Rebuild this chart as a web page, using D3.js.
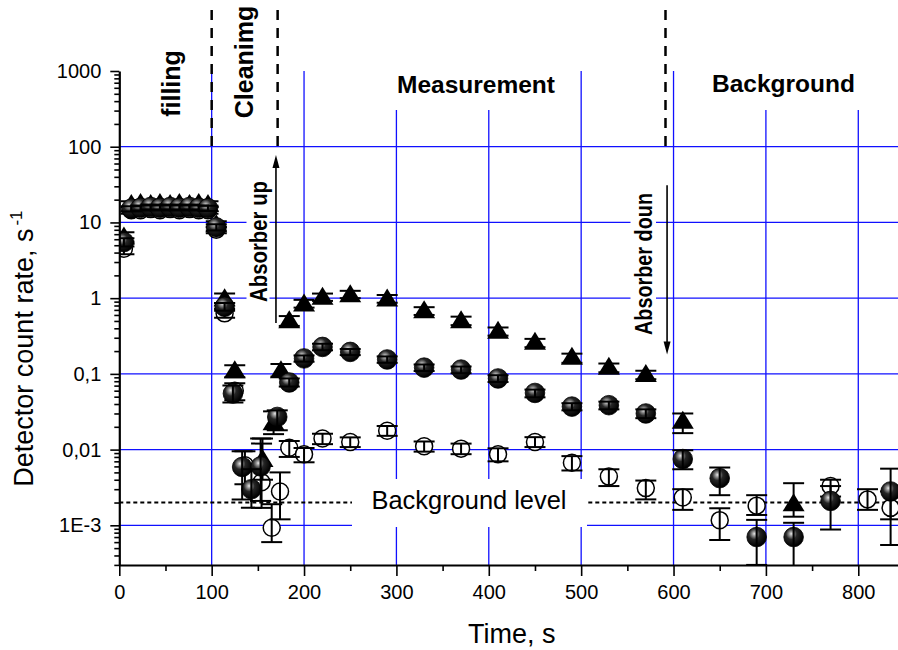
<!DOCTYPE html>
<html>
<head>
<meta charset="utf-8">
<script src="https://cdn.jsdelivr.net/npm/d3@7"></script>
<style>
  body { margin: 0; background: #fff; }
  svg { display: block; font-family: "Liberation Sans", Arial, sans-serif; }
</style>
</head>
<body>
<svg id="chart" width="898" height="650"></svg>
<script>
// ---------- data: detector count rate (1/s) vs time (s) ----------
// Series 1: filled triangles
const triTime = [5, 13, 23, 34, 44, 55, 65, 76, 86, 96, 105, 114, 125, 155, 167, 175, 184, 200, 220, 250, 290, 330, 370, 410, 450, 490, 530, 570, 610, 730];
const triRate = [6.5, 17.5, 18, 17.5, 18, 17.5, 18, 17.5, 18, 17.5, 9.5, 1.0, 0.112, 0.0075, 0.023, 0.112, 0.51, 0.85, 1.04, 1.13, 0.99, 0.69, 0.51, 0.37, 0.265, 0.168, 0.124, 0.10, 0.024, 0.00195];
const triLow  = [5.6, 16, 16.4, 16, 16.4, 16, 16.4, 16, 16.4, 16, 8.6, 0.86, 0.09, 0.004, 0.016, 0.092, 0.43, 0.75, 0.92, 1.0, 0.87, 0.60, 0.44, 0.32, 0.225, 0.14, 0.105, 0.085, 0.0165, 0.0013];
const triHigh = [7.4, 19, 19.6, 19, 19.6, 19, 19.6, 19, 19.6, 19, 10.4, 1.15, 0.13, 0.014, 0.032, 0.135, 0.58, 0.95, 1.15, 1.25, 1.1, 0.76, 0.57, 0.41, 0.29, 0.185, 0.137, 0.11, 0.030, 0.0036];

// Series 2: shaded spheres
const sphTime = [5, 13, 23, 34, 44, 55, 65, 76, 86, 96, 105, 114, 123, 133, 143, 153, 171, 184, 200, 220, 250, 290, 330, 370, 410, 450, 490, 530, 570, 610, 650, 690, 730, 770, 835];
const sphRate = [5.5, 15.2, 15.6, 16, 15.6, 16, 15.6, 16, 15.6, 15.4, 8.6, 0.77, 0.055, 0.0059, 0.0030, 0.0060, 0.027, 0.077, 0.16, 0.227, 0.195, 0.155, 0.121, 0.114, 0.087, 0.056, 0.037, 0.0386, 0.030, 0.0075, 0.0042, 0.0007, 0.0007, 0.0021, 0.0028];
const sphLow  = [4.8, 14, 14.4, 14.8, 14.4, 14.8, 14.4, 14.8, 14.4, 14.2, 7.8, 0.68, 0.042, 0.0022, 0.0017, 0.0021, 0.018, 0.068, 0.145, 0.205, 0.177, 0.14, 0.109, 0.102, 0.078, 0.049, 0.033, 0.034, 0.026, 0.0055, 0.0025, 0.0003, 0.0002, 0.00088, 0.0012];
const sphHigh = [6.2, 16.4, 16.8, 17.2, 16.8, 17.2, 16.8, 17.2, 16.8, 16.6, 9.5, 0.86, 0.07, 0.0095, 0.0055, 0.014, 0.033, 0.087, 0.175, 0.25, 0.213, 0.17, 0.133, 0.125, 0.096, 0.062, 0.041, 0.043, 0.034, 0.0098, 0.0058, 0.00118, 0.00108, 0.0033, 0.0056];

// Series 3: open circles
const opnTime = [5, 13, 23, 34, 44, 55, 65, 76, 86, 96, 105, 114, 125, 136, 154, 165, 174, 184, 200, 220, 250, 290, 330, 370, 410, 450, 490, 530, 570, 610, 650, 690, 770, 810, 835];
const opnRate = [4.5, 14.5, 14.5, 15, 14.5, 15, 14.5, 15, 14.5, 14.5, 8.0, 0.63, 0.06, 0.0062, 0.0037, 0.00093, 0.0028, 0.0106, 0.0087, 0.0140, 0.0126, 0.0177, 0.0111, 0.0103, 0.0087, 0.0126, 0.0067, 0.0044, 0.0031, 0.00233, 0.00117, 0.00182, 0.0033, 0.0022, 0.0017];
const opnLow  = [3.8, 13, 13, 13.5, 13, 13.5, 13, 13.5, 13, 13, 7.2, 0.55, 0.045, 0.0035, 0.0017, 0.0006, 0.0012, 0.008, 0.0068, 0.0118, 0.0108, 0.0152, 0.0094, 0.0087, 0.0070, 0.0108, 0.0053, 0.0033, 0.0022, 0.0016, 0.00064, 0.00137, 0.0024, 0.0016, 0.00055];
const opnHigh = [5.3, 16, 16, 16.5, 16, 16.5, 16, 16.5, 16, 16, 8.8, 0.72, 0.075, 0.0095, 0.012, 0.0019, 0.0050, 0.013, 0.0105, 0.0162, 0.0145, 0.0205, 0.0128, 0.0120, 0.0104, 0.0146, 0.0082, 0.0055, 0.0039, 0.0030, 0.00168, 0.0025, 0.0040, 0.0030, 0.0028];

// Axis ticks
const xTickValues = [0, 100, 200, 300, 400, 500, 600, 700, 800];
const yTickValues = [1e-3, 0.01, 0.1, 1, 10, 100, 1000];
const yTickLabels = ["1E-3", "0,01", "0,1", "1", "10", "100", "1000"];

// Experiment phases and markers (time in s)
const phaseBounds = [100, 171.4, 591.3];
const backgroundLevel = 0.002;

// ---------- layout ----------
const W = 898, H = 650;
const svg = d3.select("#chart");
const x = d3.scaleLinear().domain([0, 843]).range([119.3, 898]);
const y = d3.scaleLog().domain([Math.pow(10, -3.524), 1000]).range([565, 71]);
const x0 = x(0), yBot = y.range()[0], yTop = y.range()[1];

const defs = svg.append("defs");
const grad = defs.append("radialGradient").attr("id", "sphere")
  .attr("cx", 0.4).attr("cy", 0.36).attr("r", 0.62).attr("fx", 0.38).attr("fy", 0.33);
grad.append("stop").attr("offset", 0).attr("stop-color", "#e6e6e6");
grad.append("stop").attr("offset", 0.16).attr("stop-color", "#9c9c9c");
grad.append("stop").attr("offset", 0.45).attr("stop-color", "#262626");
grad.append("stop").attr("offset", 1).attr("stop-color", "#000");
defs.append("clipPath").attr("id", "plotClip").append("rect")
  .attr("x", x0).attr("y", 40).attr("width", W - x0).attr("height", yBot - 40);

// ---------- grid ----------
const grid = svg.append("g").attr("stroke", "#1010ff").attr("stroke-width", 1.3);
[0.001, 0.01, 0.1, 1, 10, 100].forEach(v =>
  grid.append("line").attr("x1", x0).attr("x2", W).attr("y1", y(v)).attr("y2", y(v)));
xTickValues.slice(1).forEach(t =>
  grid.append("line").attr("x1", x(t)).attr("x2", x(t)).attr("y1", yTop).attr("y2", yBot));

// background level
svg.append("line").attr("x1", x0).attr("x2", W)
  .attr("y1", y(backgroundLevel)).attr("y2", y(backgroundLevel))
  .attr("stroke", "#000").attr("stroke-width", 2).attr("stroke-dasharray", "4,3");

// white label backgrounds
const boxes = [
  [388, 66, 180, 44],     // Measurement
  [703, 66, 163, 44],     // Background
  [246.5, 176, 23, 132],  // Absorber up
  [630.5, 187, 25.5, 154],// Absorber doun
  [352, 479, 235, 48]     // Background level
];
svg.append("g").selectAll("rect").data(boxes).join("rect")
  .attr("x", d => d[0]).attr("y", d => d[1]).attr("width", d => d[2]).attr("height", d => d[3])
  .attr("fill", "#fff");

// ---------- data ----------
const plot = svg.append("g").attr("clip-path", "url(#plotClip)");
function rows(t, v, lo, hi) { return t.map((d, i) => ({ t: d, v: v[i], lo: lo[i], hi: hi[i] })); }
const tri = rows(triTime, triRate, triLow, triHigh);
const sph = rows(sphTime, sphRate, sphLow, sphHigh);
const opn = rows(opnTime, opnRate, opnLow, opnHigh);

function errorBars(g, data) {
  const e = g.append("g").attr("stroke", "#000").attr("stroke-width", 2).attr("fill", "none");
  data.forEach(d => {
    const cx = x(d.t), y1 = y(d.lo), y2 = y(d.hi);
    e.append("line").attr("x1", cx).attr("x2", cx).attr("y1", y1).attr("y2", y2);
    e.append("line").attr("x1", cx - 10.5).attr("x2", cx + 10.5).attr("y1", y1).attr("y2", y1);
    e.append("line").attr("x1", cx - 10.5).attr("x2", cx + 10.5).attr("y1", y2).attr("y2", y2);
  });
}

// open circles
plot.append("g").selectAll("circle").data(opn).join("circle")
  .attr("cx", d => x(d.t)).attr("cy", d => y(d.v)).attr("r", 8.5)
  .attr("fill", "#fff").attr("stroke", "#000").attr("stroke-width", 1.5);
errorBars(plot, opn);

// triangles
plot.append("g").selectAll("path").data(tri).join("path")
  .attr("d", "M0,-10L11,8L-11,8Z")
  .attr("transform", d => `translate(${x(d.t)},${y(d.v)})`)
  .attr("fill", "#000");
errorBars(plot, tri);

// spheres
plot.append("g").selectAll("circle").data(sph).join("circle")
  .attr("cx", d => x(d.t)).attr("cy", d => y(d.v)).attr("r", 9.8)
  .attr("fill", "url(#sphere)").attr("stroke", "#000").attr("stroke-width", 0.8);
errorBars(plot, sph);

// ---------- axes ----------
const xAxis = svg.append("g").attr("transform", `translate(0,${yBot})`)
  .call(d3.axisBottom(x).tickValues(xTickValues).tickSize(11).tickSizeOuter(0).tickPadding(9));
svg.append("g").attr("transform", `translate(0,${yBot})`)
  .call(d3.axisBottom(x).tickValues(d3.range(50, 850, 100)).tickSize(6).tickSizeOuter(0).tickFormat(""))
  .call(g => g.select(".domain").remove());
xAxis.selectAll("text").attr("font-size", 20).attr("font-family", "Liberation Sans, Arial, sans-serif").attr("fill", "#000");

const minor = [];
for (let e = -4; e < 3; e++) for (let k = 2; k <= 9; k++) {
  const v = k * Math.pow(10, e);
  if (v >= y.domain()[0] && v <= 1000) minor.push(v);
}
const yAxis = svg.append("g").attr("transform", `translate(${x0},0)`)
  .call(d3.axisLeft(y).tickValues(yTickValues).tickSize(9).tickSizeOuter(0).tickPadding(9)
    .tickFormat((d, i) => yTickLabels[i]));
svg.append("g").attr("transform", `translate(${x0},0)`)
  .call(d3.axisLeft(y).tickValues(minor).tickSize(5).tickSizeOuter(0).tickFormat(""))
  .call(g => g.select(".domain").remove());
yAxis.selectAll("text").attr("font-size", 20).attr("font-family", "Liberation Sans, Arial, sans-serif").attr("fill", "#000");
svg.selectAll(".domain").attr("stroke-width", 2.2);
svg.selectAll(".tick line").attr("stroke-width", 1.6);

// ---------- phase annotations ----------
phaseBounds.forEach(t =>
  svg.append("line").attr("x1", x(t)).attr("x2", x(t)).attr("y1", 10).attr("y2", y(100))
    .attr("stroke", "#000").attr("stroke-width", 2.5).attr("stroke-dasharray", "10,8"));

function arrow(t, vFrom, vTo) {
  const ax = x(t), a = y(vFrom), b = y(vTo), dir = b < a ? 1 : -1;
  svg.append("line").attr("x1", ax).attr("x2", ax).attr("y1", a).attr("y2", b + dir * 10)
    .attr("stroke", "#000").attr("stroke-width", 1.6);
  svg.append("path").attr("d", `M${ax},${b}L${ax - 3.5},${b + dir * 13}L${ax + 3.5},${b + dir * 13}Z`).attr("fill", "#000");
}
arrow(169.6, 0.47, 78);
arrow(593, 31, 0.18);

function vText(txt, bx, cy, size, weight, len) {
  const t = svg.append("text").attr("transform", `translate(${bx},${cy}) rotate(-90)`)
    .attr("text-anchor", "middle").attr("font-size", size).attr("font-weight", weight).text(txt);
  if (len) t.attr("textLength", len).attr("lengthAdjust", "spacingAndGlyphs");
}
vText("filling", 179.5, 83.5, 25, "bold");
vText("Cleanimg", 253, 62, 25, "bold");
vText("Absorber up", 266.5, 241.5, 23, "bold", 121);
vText("Absorber doun", 651.5, 264, 23, "bold", 142);

svg.append("text").attr("x", 397).attr("y", 93).attr("font-size", 24.5).attr("font-weight", "bold").text("Measurement");
svg.append("text").attr("x", 712).attr("y", 92).attr("font-size", 24.5).attr("font-weight", "bold").text("Background");
svg.append("text").attr("x", 371.5).attr("y", 508.5).attr("font-size", 25)
  .attr("textLength", 195).attr("lengthAdjust", "spacingAndGlyphs").text("Background level");

// axis titles
svg.append("text").attr("x", 511.7).attr("y", 643).attr("text-anchor", "middle").attr("font-size", 27).text("Time, s");
const yt = svg.append("text").attr("transform", "translate(33,486.7) rotate(-90)").attr("font-size", 27);
yt.append("tspan").text("Detector count rate, s");
yt.append("tspan").attr("dx", 3).attr("dy", -11).attr("font-size", 17).text("-1");
</script>
</body>
</html>
